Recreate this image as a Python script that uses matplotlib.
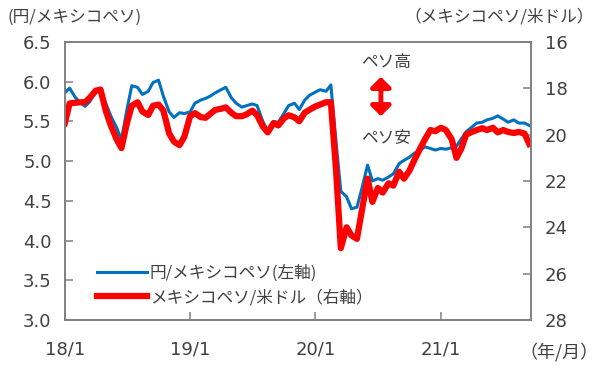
import matplotlib
matplotlib.use("Agg")
import matplotlib.pyplot as plt
import pandas as pd

plt.rcParams['font.family'] = ['Noto Sans CJK JP', 'DejaVu Sans']

# semi-monthly observation dates (1st and 15th), Jan 2018 - Sep 2021
dates = pd.date_range("2018-01-01", "2021-09-15", freq="SMS")

# 円/メキシコペソ (left axis)
jpy_mxn = [
    5.86, 5.92, 5.80, 5.74, 5.69, 5.75, 5.88, 5.90, 5.72, 5.57, 5.42, 5.27,
    5.65, 5.95, 5.93, 5.84, 5.88, 5.99, 6.02, 5.82, 5.62, 5.55, 5.61, 5.60,
    5.62, 5.73, 5.77, 5.79, 5.82, 5.86, 5.90, 5.93, 5.80, 5.73, 5.68, 5.70,
    5.72, 5.70, 5.50, 5.38, 5.50, 5.49, 5.60, 5.70, 5.73, 5.65, 5.77, 5.83,
    5.87, 5.90, 5.88, 5.96, 5.25, 4.62, 4.55, 4.40, 4.42, 4.65, 4.95, 4.75,
    4.78, 4.76, 4.80, 4.84, 4.97, 5.01, 5.05, 5.10, 5.14, 5.18, 5.16, 5.14,
    5.16, 5.15, 5.17, 5.19, 5.28, 5.37, 5.43, 5.48, 5.49, 5.52, 5.54, 5.57,
    5.53, 5.49, 5.52, 5.48, 5.48, 5.45,
]

# メキシコペソ/米ドル (right axis, inverted)
mxn_usd = [
    19.50, 18.65, 18.62, 18.60, 18.60, 18.40, 18.10, 18.05, 19.00, 19.60, 20.20, 20.58,
    19.50, 18.75, 18.60, 19.00, 19.15, 18.75, 18.70, 18.95, 19.95, 20.30, 20.45, 20.10,
    19.20, 19.07, 19.24, 19.27, 19.10, 18.93, 18.88, 18.82, 19.05, 19.20, 19.20, 19.12,
    18.96, 19.15, 19.65, 19.90, 19.50, 19.60, 19.30, 19.16, 19.25, 19.42, 19.05, 18.92,
    18.78, 18.70, 18.60, 18.60, 21.50, 24.90, 24.00, 24.35, 24.50, 23.30, 21.90, 22.90,
    22.30, 22.50, 22.10, 22.20, 21.60, 21.90, 21.55, 21.10, 20.60, 20.20, 19.80, 19.85,
    19.70, 19.80, 20.20, 21.00, 20.60, 20.00, 19.88, 19.80, 19.72, 19.80, 19.70, 19.90,
    19.80, 19.88, 19.93, 19.88, 19.95, 20.40,
]

xtick_dates = pd.to_datetime(["2018-01-01", "2019-01-01", "2020-01-01", "2021-01-01"])
xtick_labels = ["18/1", "19/1", "20/1", "21/1"]
left_ticks = [3.0, 3.5, 4.0, 4.5, 5.0, 5.5, 6.0, 6.5]
right_ticks = [16, 18, 20, 22, 24, 26, 28]

BLUE = "#0070C0"
RED = "#FF0000"
GRAY = "#808080"
TXT = "#404040"
NUMFONT = ['DejaVu Sans']

fig = plt.figure(figsize=(6.0, 3.69), dpi=100)
ax = fig.add_axes([0.108, 0.133, 0.777, 0.753])
ax2 = ax.twinx()

l1, = ax.plot(dates, jpy_mxn, color=BLUE, lw=2.2, label="円/メキシコペソ(左軸)")
l2, = ax2.plot(dates, mxn_usd, color=RED, lw=4.5, label="メキシコペソ/米ドル（右軸）")

ax.set_xlim(pd.Timestamp("2018-01-01"), pd.Timestamp("2021-09-20"))
ax.set_ylim(3.0, 6.5)
ax.set_yticks(left_ticks)
ax.set_yticklabels([f"{v:.1f}" for v in left_ticks], family=NUMFONT)
ax2.set_ylim(28, 16)
ax2.set_yticks(right_ticks)
ax2.set_yticklabels([str(v) for v in right_ticks], family=NUMFONT)
ax.set_xticks(xtick_dates)
ax.set_xticklabels(xtick_labels, family=NUMFONT)

for a in (ax, ax2):
    for s in a.spines.values():
        s.set_color(GRAY)
        s.set_linewidth(1.2)
ax.tick_params(axis="y", direction="in", length=6, width=1.1, color=GRAY,
               labelsize=13, labelcolor=TXT, pad=9.5)
ax.tick_params(axis="x", direction="in", length=6, width=1.1, color=GRAY,
               labelsize=13, labelcolor=TXT, pad=15)
ax2.tick_params(axis="y", direction="in", length=6, width=1.1, color=GRAY,
                labelsize=13, labelcolor=TXT, pad=10)

fig.text(0.013, 0.953, "(円/メキシコペソ)", fontsize=12, color=TXT, va="center", ha="left")
fig.text(0.99, 0.953, "（メキシコペソ/米ドル）", fontsize=12, color=TXT, va="center", ha="right")
fig.text(0.997, 0.045, "（年/月）", fontsize=13, color=TXT, va="center", ha="right")

ax.text(0.69, 0.928, "ペソ高", transform=ax.transAxes, fontsize=12, color=TXT,
        ha="center", va="center")
ax.text(0.69, 0.658, "ペソ安", transform=ax.transAxes, fontsize=12, color=TXT,
        ha="center", va="center")
ax.annotate("", xy=(0.678, 0.875), xytext=(0.678, 0.733),
            xycoords="axes fraction", textcoords="axes fraction",
            arrowprops=dict(arrowstyle="<|-|>,head_width=0.6,head_length=0.6",
                            color=RED, lw=3.5, shrinkA=0, shrinkB=0))

ax.legend(handles=[l1, l2], loc="lower left", bbox_to_anchor=(0.055, 0.025),
          frameon=False, fontsize=12, handlelength=3.0, handletextpad=0.15,
          labelspacing=0.45, labelcolor=TXT, borderaxespad=0)

fig.savefig("out.png", dpi=100)
